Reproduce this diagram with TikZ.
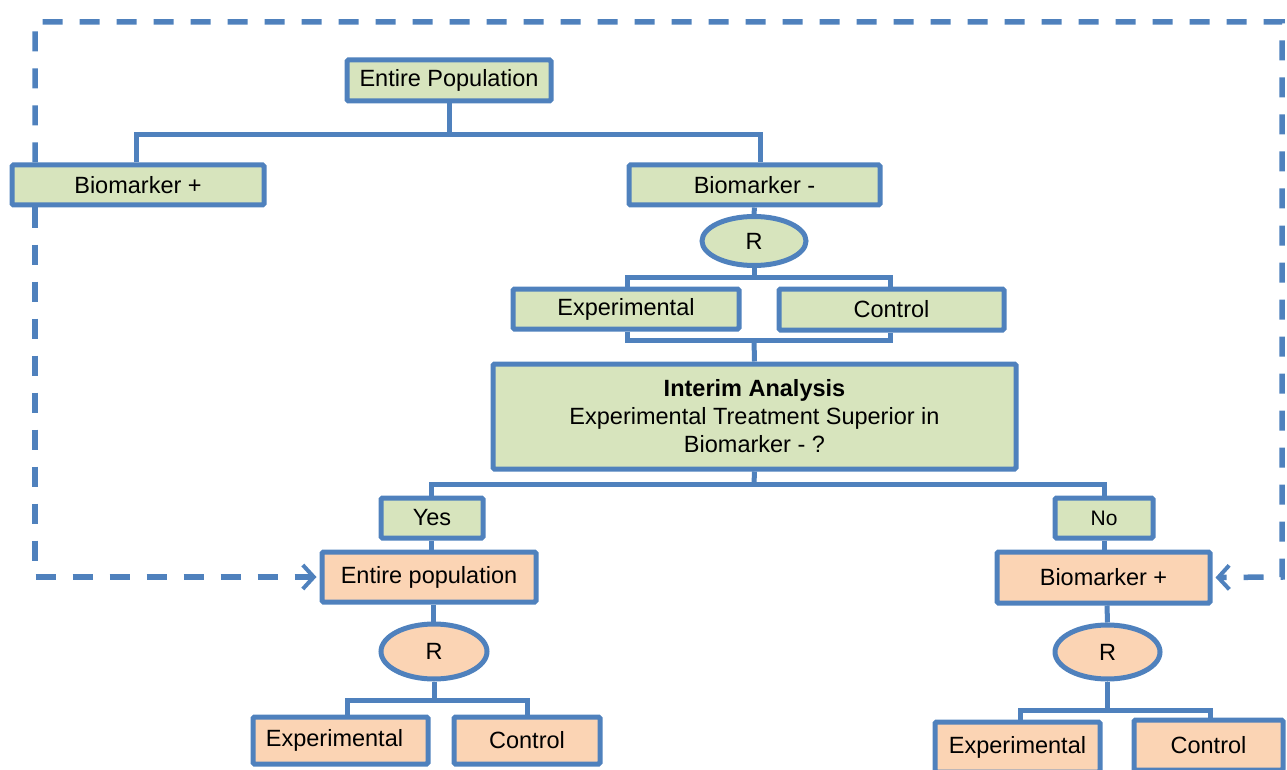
\documentclass[tikz,border=0pt]{standalone}
\usepackage{fontspec}
\setmainfont{Liberation Sans}
\usetikzlibrary{shapes.geometric,arrows.meta}
\definecolor{bl}{HTML}{4F81BD}
\definecolor{gr}{HTML}{D7E4BD}
\definecolor{orf}{HTML}{FBD4B4}
\tikzset{
  box/.style={draw=bl, line width=5pt, rounded corners=1.5pt, inner sep=0pt, align=center,
    font=\fontsize{23.5}{28}\selectfont},
  gbox/.style={box, fill=gr},
  obox/.style={box, fill=orf},
  rnode/.style={ellipse, draw=bl, line width=5pt, inner sep=0pt, font=\fontsize{23.5}{28}\selectfont},
  conn/.style={draw=bl, line width=5pt},
  dsh/.style={draw=bl, line width=5.5pt, dash pattern=on 20pt off 17pt},
  tip/.style={-{Straight Barb[length=11pt,width=24pt,line width=4pt]}, shorten >=3pt}
}
\begin{document}
\begin{tikzpicture}[x=1pt,y=-1pt]
\useasboundingbox (0,0) rectangle (1287,770);
\begin{scope}
\clip (0,0) rectangle (1287,770);
% nodes
\node[gbox, minimum width=204pt, minimum height=41pt] (ep) at (449,80.5) {Entire Population};
\node[gbox, minimum width=252pt, minimum height=40pt] (bp) at (138,185) {Biomarker +};
\node[gbox, minimum width=251pt, minimum height=40pt] (bm) at (754.5,185) {Biomarker -};
\node[rnode, fill=gr, minimum width=104pt, minimum height=49pt] (r1) at (754,241) {R};
\node[gbox, minimum width=226pt, minimum height=40pt] (e1) at (626,309) {Experimental};
\node[gbox, minimum width=225pt, minimum height=41pt] (c1) at (891.5,309.5) {Control};
\node[gbox, minimum width=523pt, minimum height=105pt] (ia) at (754.5,416.5) {\textbf{Interim Analysis}\\Experimental Treatment Superior in\\Biomarker - ?};
\node[gbox, minimum width=102pt, minimum height=40pt] (yes) at (432,518) {Yes};
\node[gbox, minimum width=98pt, minimum height=40pt, font=\fontsize{21}{25}\selectfont] (no) at (1104,518) {No};
\node[obox, minimum width=214pt, minimum height=50pt] (ep2) at (429,577) {Entire population};
\node[obox, minimum width=213pt, minimum height=51pt] (bp2) at (1103.5,577.5) {Biomarker +};
\node[rnode, fill=orf, minimum width=106pt, minimum height=55pt] (r2) at (434,651.5) {R};
\node[rnode, fill=orf, minimum width=105pt, minimum height=54pt] (r3) at (1107.5,652) {R};
\node[obox, minimum width=175pt, minimum height=47pt] (e2) at (340.5,740.5) {\hspace*{-12pt}Experimental};
\node[obox, minimum width=146pt, minimum height=47pt] (c2) at (527,740.5) {Control};
\node[obox, minimum width=165pt, minimum height=50pt] (e3) at (1017.5,747) {Experimental};
\node[obox, minimum width=149pt, minimum height=50pt] (c3) at (1208.5,745) {Control};
% connectors
\coordinate (j1) at (449,135);
\draw[conn] (ep.south) -- (j1);
\draw[conn] ([xshift=-2pt]bp.north) |- (j1) -| ([xshift=5.5pt]bm.north);
\draw[conn] (bm.south) -- (r1.north);
\coordinate (j2) at (754,277);
\draw[conn] (r1.south) -- (j2);
\draw[conn] ([xshift=1pt]e1.north) |- (j2) -| ([xshift=-1.5pt]c1.north);
\coordinate (j3) at (754,340);
\draw[conn] ([xshift=1pt]e1.south) |- (j3) -| ([xshift=-1.5pt]c1.south);
\draw[conn] (j3) -- (ia.north);
\coordinate (j4) at (754,484);
\draw[conn] (ia.south) -- (j4);
\draw[conn] ([xshift=-1pt]yes.north) |- (j4) -| (no.north);
\draw[conn] ([xshift=-1pt]yes.south) -- ([xshift=2pt]ep2.north);
\draw[conn] (no.south) -- ([xshift=0.5pt]bp2.north);
\draw[conn] ([xshift=4pt]ep2.south) -- ([xshift=-1pt]r2.north);
\draw[conn] ([xshift=3.5pt]bp2.south) -- (r3.north);
\coordinate (j5) at (434,700);
\draw[conn] (r2.south) -- (j5);
\draw[conn] ([xshift=6.5pt]e2.north) |- (j5) -| (c2.north);
\coordinate (j6) at (1107.5,710);
\draw[conn] (r3.south) -- (j6);
\draw[conn] ([xshift=2.5pt]e3.north) |- (j6) -| ([xshift=1.5pt]c3.north);
% dashed feedback lines
\coordinate (dl) at (35,0);
\coordinate (dtl) at (35,22);
\coordinate (dtr) at (1282,22);
\coordinate (dbr) at (1282,577);
\coordinate (dbl) at (35,577);
\draw[dsh, tip] (bp.north -| dl) -- (dtl) -- (dtr) -- (dbr) -- (bp2.east);
\draw[dsh, tip] (bp.south -| dl) -- (dbl) -- (ep2.west);
\end{scope}
\end{tikzpicture}
\end{document}
